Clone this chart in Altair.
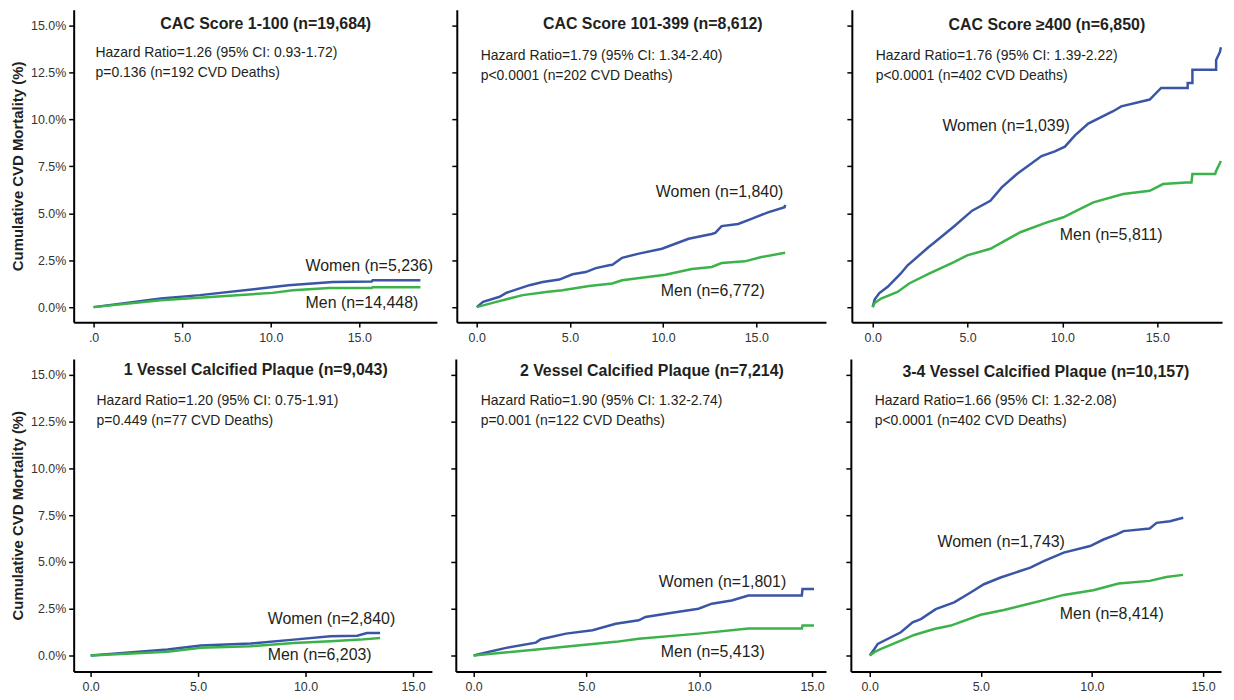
import altair as alt
import pandas as pd

BLUE = "#3a55a5"
GREEN = "#3bb34a"
INK = "#231f20"
FONT = "Liberation Sans"

# ---------------- data ----------------
titles = [
    "CAC Score 1-100 (n=19,684)",
    "CAC Score 101-399 (n=8,612)",
    "CAC Score \u2265400 (n=6,850)",
    "1 Vessel Calcified Plaque (n=9,043)",
    "2 Vessel Calcified Plaque (n=7,214)",
    "3-4 Vessel Calcified Plaque (n=10,157)",
]
hr_lines = [
    "Hazard Ratio=1.26 (95% CI: 0.93-1.72)",
    "Hazard Ratio=1.79 (95% CI: 1.34-2.40)",
    "Hazard Ratio=1.76 (95% CI: 1.39-2.22)",
    "Hazard Ratio=1.20 (95% CI: 0.75-1.91)",
    "Hazard Ratio=1.90 (95% CI: 1.32-2.74)",
    "Hazard Ratio=1.66 (95% CI: 1.32-2.08)",
]
p_lines = [
    "p=0.136 (n=192 CVD Deaths)",
    "p<0.0001 (n=202 CVD Deaths)",
    "p<0.0001 (n=402 CVD Deaths)",
    "p=0.449 (n=77 CVD Deaths)",
    "p=0.001 (n=122 CVD Deaths)",
    "p<0.0001 (n=402 CVD Deaths)",
]
women_labels = ["Women (n=5,236)", "Women (n=1,840)", "Women (n=1,039)",
                "Women (n=2,840)", "Women (n=1,801)", "Women (n=1,743)"]
men_labels = ["Men (n=14,448)", "Men (n=6,772)", "Men (n=5,811)",
              "Men (n=6,203)", "Men (n=5,413)", "Men (n=8,414)"]

x_ticks = [0, 5, 10, 15]
y_ticks = [0, 2.5, 5, 7.5, 10, 12.5, 15]
y_title = "Cumulative CVD Mortality (%)"

# years of follow-up / cumulative CVD mortality (%)
w1_t = [0, 3.8, 6.0, 9.4, 11.0, 13.5, 15.7, 15.75, 18.45]
w1_y = [0, 0.46, 0.64, 0.99, 1.17, 1.34, 1.36, 1.43, 1.43]
m1_t = [0, 3.8, 6.8, 10.1, 11.25, 13.3, 15.7, 15.75, 18.45]
m1_y = [0, 0.37, 0.55, 0.76, 0.90, 1.02, 1.02, 1.06, 1.06]

w2_t = [0, 0.34, 1.23, 1.58, 2.83, 3.54, 4.43, 5.14, 5.85, 6.39, 7.1, 7.28, 7.8,
        8.7, 9.94, 11.37, 12.61, 12.8, 13.14, 14.03, 14.74, 15.63, 16.52, 16.55]
w2_y = [0, 0.28, 0.55, 0.76, 1.17, 1.34, 1.47, 1.75, 1.87, 2.08, 2.23, 2.26, 2.63,
        2.85, 3.11, 3.64, 3.90, 3.96, 4.32, 4.43, 4.70, 5.05, 5.32, 5.45]
m2_t = [0, 1.05, 2.47, 3.72, 4.6, 6.03, 7.27, 7.8, 10.12, 11.54, 12.61, 13.14,
        14.39, 15.28, 16.55]
m2_y = [0, 0.28, 0.64, 0.81, 0.90, 1.13, 1.26, 1.43, 1.73, 2.03, 2.14, 2.35,
        2.44, 2.67, 2.90]

w3_t = [0, 0.1, 0.35, 0.79, 1.47, 1.84, 2.95, 3.2, 4.28, 5.24, 6.2, 6.8, 7.6,
        8.9, 9.6, 10.13, 10.66, 11.36, 12.67, 13.1, 14.6, 15.2, 16.6, 16.6,
        16.85, 16.85, 18.1, 18.1, 18.3, 18.35]
w3_y = [0, 0.40, 0.75, 1.08, 1.78, 2.23, 3.20, 3.40, 4.30, 5.14, 5.67, 6.38,
        7.09, 8.05, 8.30, 8.55, 9.15, 9.78, 10.44, 10.70, 11.06, 11.68, 11.68,
        11.94, 11.94, 12.65, 12.65, 13.17, 13.60, 13.85]
m3_t = [0, 0.1, 0.44, 1.31, 1.92, 2.97, 4.28, 4.98, 6.2, 7.78, 9.18, 10.05,
        10.75, 11.63, 13.2, 14.6, 15.3, 16.52, 16.8, 16.85, 18.05, 18.1, 18.35]
m3_y = [0, 0.22, 0.46, 0.81, 1.26, 1.78, 2.40, 2.76, 3.11, 3.99, 4.52, 4.79,
        5.14, 5.58, 6.03, 6.20, 6.56, 6.64, 6.64, 7.09, 7.09, 7.26, 7.79]

w4_t = [0, 3.57, 5.13, 7.45, 9.45, 11.16, 12.4, 12.86, 13.47]
w4_y = [0, 0.32, 0.53, 0.64, 0.85, 1.03, 1.06, 1.20, 1.20]
m4_t = [0, 3.57, 5.13, 7.45, 9.45, 11.16, 12.55, 13.47]
m4_y = [0, 0.20, 0.41, 0.50, 0.67, 0.76, 0.85, 0.94]

w5_t = [0, 0.7, 1.44, 2.76, 2.98, 4.1, 5.27, 6.3, 7.32, 7.62, 8.8, 9.97, 10.56,
        11.44, 12.18, 14.55, 14.58, 15.09]
w5_y = [0, 0.20, 0.41, 0.69, 0.87, 1.17, 1.35, 1.70, 1.88, 2.06, 2.29, 2.50,
        2.77, 2.94, 3.21, 3.21, 3.56, 3.56]
m5_t = [0, 2.91, 6.3, 7.32, 9.97, 12.18, 14.55, 14.58, 15.09]
m5_y = [0, 0.34, 0.73, 0.90, 1.17, 1.44, 1.44, 1.61, 1.61]

w6_t = [0, 0.21, 0.36, 1.4, 1.93, 2.3, 2.97, 3.8, 4.54, 5.14, 5.89, 7.23, 7.83,
        8.73, 9.92, 10.52, 11.12, 11.42, 12.6, 12.91, 13.51, 14.11]
w6_y = [0, 0.35, 0.62, 1.24, 1.77, 1.95, 2.48, 2.84, 3.37, 3.81, 4.17, 4.70,
        5.05, 5.50, 5.85, 6.20, 6.47, 6.65, 6.79, 7.09, 7.18, 7.36]
m6_t = [0, 0.21, 0.51, 1.4, 2.0, 2.9, 3.65, 4.99, 6.04, 7.08, 7.83, 8.73, 10.06,
        11.2, 12.6, 13.35, 14.1]
m6_y = [0, 0.18, 0.35, 0.80, 1.10, 1.42, 1.60, 2.18, 2.43, 2.74, 2.96, 3.24,
        3.49, 3.85, 3.99, 4.20, 4.31]

series = [
    (w1_t, w1_y, m1_t, m1_y), (w2_t, w2_y, m2_t, m2_y), (w3_t, w3_y, m3_t, m3_y),
    (w4_t, w4_y, m4_t, m4_y), (w5_t, w5_y, m5_t, m5_y), (w6_t, w6_y, m6_t, m6_y),
]

# ---------------- layout (pixels, relative to each plot area) ----------------
PLOT_H = 314
layout = [
    dict(w=365, xd=[-1.124, 19.38], yd=[-0.8, 15.85], ti=(193, 14), hr=(22, 44), wl=(233, 258), ml=(233, 295), minext=None),
    dict(w=371, xd=[-1.07, 18.74], yd=[-0.8, 15.85], ti=(197, 14), hr=(24, 47), wl=(200, 183), ml=(205, 283), minext=5),
    dict(w=372, xd=[-1.10, 18.41], yd=[-0.8, 15.85], ti=(196, 15), hr=(24, 47), wl=(91, 117), ml=(209, 226), minext=12),
    dict(w=360, xd=[-0.79, 15.88], yd=[-0.85, 15.85], ti=(183, 11), hr=(23, 42), wl=(195, 261), ml=(195, 298), minext=None),
    dict(w=372, xd=[-0.79, 15.62], yd=[-0.85, 15.85], ti=(197, 12), hr=(25, 42), wl=(204, 224), ml=(206, 295), minext=10),
    dict(w=372, xd=[-0.85, 15.81], yd=[-0.85, 15.85], ti=(196, 13), hr=(24, 42), wl=(87, 184), ml=(210, 256), minext=11),
]


def txt(s, x, y, size, bold=False, align="left"):
    return alt.Chart(pd.DataFrame({"s": [s]})).mark_text(
        align=align, baseline="middle", fontSize=size,
        fontWeight="bold" if bold else "normal", font=FONT, color=INK,
    ).encode(text="s:N", x=alt.value(x), y=alt.value(y))


def make_panel(k):
    wt, wy, mt, my = series[k]
    L = layout[k]
    df = pd.DataFrame({
        "t": wt + mt,
        "y": wy + my,
        "sex": ["Women"] * len(wt) + ["Men"] * len(mt),
        "i": list(range(len(wt))) + list(range(len(mt))),
    })
    common = dict(domainColor="black", domainWidth=2, tickColor="black",
                  tickWidth=1.5, tickSize=5, grid=False,
                  labelFont=FONT, labelFontSize=12.5, labelColor="#333333")
    if L["minext"] is None:
        yaxis = alt.Axis(values=y_ticks, labelExpr="format(datum.value, '.1f') + '%'",
                         title=y_title, titleFont=FONT, titleFontSize=15,
                         titleFontWeight="bold", titleColor=INK, titlePadding=5,
                         labelPadding=3, **common)
    else:
        yaxis = alt.Axis(values=y_ticks, labels=False, title=None,
                         minExtent=L["minext"], **common)
    if k == 0:
        xexpr = "datum.value == 0 ? '.0' : format(datum.value, '.1f')"
    else:
        xexpr = "format(datum.value, '.1f')"
    xaxis = alt.Axis(values=x_ticks, labelExpr=xexpr, title=None, labelPadding=4,
                     **common)
    lines = alt.Chart(df).mark_line(strokeWidth=2.5).encode(
        x=alt.X("t:Q", scale=alt.Scale(domain=L["xd"], nice=False, zero=False), axis=xaxis),
        y=alt.Y("y:Q", scale=alt.Scale(domain=L["yd"], nice=False, zero=False), axis=yaxis),
        color=alt.Color("sex:N", scale=alt.Scale(domain=["Women", "Men"], range=[BLUE, GREEN]),
                        legend=None),
        order=alt.Order("i:Q"),
    )
    hx, hy = L["hr"]
    layers = [
        lines,
        txt(titles[k], L["ti"][0], L["ti"][1], 16, bold=True, align="center"),
        txt(hr_lines[k], hx, hy, 14),
        txt(p_lines[k], hx, hy + 20, 14),
        txt(women_labels[k], L["wl"][0], L["wl"][1], 16),
        txt(men_labels[k], L["ml"][0], L["ml"][1], 16),
    ]
    return alt.layer(*layers).properties(width=L["w"], height=PLOT_H)


row1 = alt.hconcat(make_panel(0), make_panel(1), make_panel(2), spacing=14).resolve_scale(
    x="independent", y="independent")
row2 = alt.hconcat(make_panel(3), make_panel(4), make_panel(5), spacing=14).resolve_scale(
    x="independent", y="independent")

chart = alt.vconcat(row1, row2, spacing=15).resolve_scale(
    x="independent", y="independent"
).properties(
    padding={"left": 2, "top": 0, "right": 0, "bottom": 0},
    background="white",
).configure_view(strokeWidth=0)

chart.save("out.html", embed_options={"renderer": "svg", "actions": False})
